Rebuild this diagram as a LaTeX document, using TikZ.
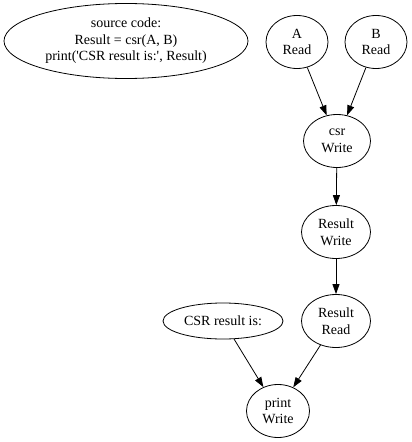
\documentclass[tikz,border=0pt]{standalone}
\usepackage{fontspec}
\setmainfont{Liberation Serif}
\usetikzlibrary{arrows.meta}
\usetikzlibrary{shapes.geometric}
\tikzset{ell/.style = {draw, ellipse, inner sep = 0, align = center,
                       font = \fontsize{14}{16.5}\selectfont}}
\tikzset{op/.style = {ell, minimum width = 64, minimum height = 53}}
\tikzset{edge/.style = {-{Triangle[length = 10, width = 7]}}}

\begin{document}
\begin{tikzpicture}[x=1pt, y=-1pt, line width=0.8pt]
      \useasboundingbox (0, 0) rectangle (412, 442);

      \node [ell, minimum width = 244, minimum height = 75] (src) at (126, 41)
            {source code:\\Result = csr(A, B)\\print(\textquotesingle CSR result is:\textquotesingle, Result)};

      \node [op, minimum width = 62] (aread) at (297, 42) {A\\Read};
      \node [op, minimum width = 62] (bread) at (376, 42) {B\\Read};
      \node [op, minimum width = 67] (csr) at (337, 141) {csr\\Write};
      \node [op, minimum width = 69] (reswrite) at (336, 232) {Result\\Write};
      \node [op, minimum width = 69] (resread) at (336, 321) {Result\\Read};
      \node [ell, minimum width = 120, minimum height = 36] (msg) at (223, 321) {CSR result is:};
      \node [op, minimum width = 63] (print) at (278, 411) {print\\Write};

      \draw [edge] (aread) -- (csr);
      \draw [edge] (bread) -- (csr);
      \draw [edge] (csr) -- (reswrite);
      \draw [edge] (reswrite) -- (resread);
      \draw [edge] (resread) -- (print);
      \draw [edge] (msg) -- (print);
\end{tikzpicture}
\end{document}
